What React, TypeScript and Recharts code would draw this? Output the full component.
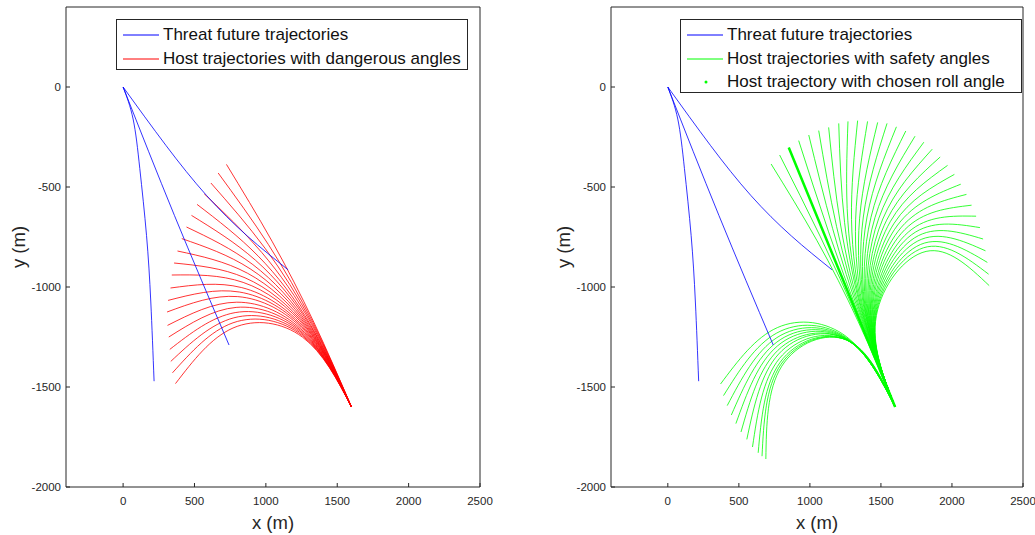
import React from 'react';
import { LineChart, Line, XAxis, YAxis, Legend, Label } from 'recharts';

type Pt = [number, number];

const xTicks = [0, 500, 1000, 1500, 2000, 2500];
const yTicks = [-2000, -1500, -1000, -500, 0];
const xRange: [number, number] = [-400, 2500];
const yRange: [number, number] = [-2000, 400];

// every host trajectory leaves from here
const hostStart: Pt = [1600, -1600];

// threat predictions, from the origin
const threatPaths: Pt[][] = [
  [[0, 0], [70, -160], [117, -408], [164, -742], [194, -1075], [217, -1471]],
  [[0, 0], [360, -643], [742, -1290]],
  [[0, 0], [300, -292], [584, -542], [870, -745], [1156, -914]],
];

// host paths: point at 1/3, point at 2/3, end point (start is hostStart)
const dangerPaths: Pt[][] = [
  [[1336, -1176], [1043, -771], [724, -387]],
  [[1330, -1178], [1017, -787], [666, -430]],
  [[1325, -1182], [994, -806], [615, -480]],
  [[1320, -1186], [972, -828], [568, -534]],
  [[1313, -1189], [947, -846], [518, -587]],
  [[1309, -1192], [927, -866], [479, -642]],
  [[1304, -1196], [909, -888], [444, -700]],
  [[1299, -1199], [890, -909], [411, -758]],
  [[1294, -1202], [871, -931], [381, -820]],
  [[1289, -1205], [854, -954], [357, -880]],
  [[1286, -1209], [841, -977], [341, -940]],
  [[1283, -1215], [831, -1003], [332, -1005]],
  [[1277, -1217], [814, -1025], [315, -1067]],
  [[1273, -1221], [803, -1048], [308, -1125]],
  [[1270, -1227], [796, -1076], [311, -1192]],
  [[1269, -1233], [792, -1102], [320, -1250]],
  [[1266, -1237], [785, -1128], [327, -1312]],
  [[1262, -1241], [776, -1154], [334, -1372]],
  [[1258, -1245], [770, -1179], [346, -1429]],
  [[1257, -1251], [770, -1205], [367, -1483]],
];

const safeLeftPaths: Pt[][] = [
  [[1259, -1249], [771, -1203], [371, -1485]],
  [[1256, -1253], [767, -1230], [392, -1543]],
  [[1255, -1256], [768, -1253], [418, -1593]],
  [[1254, -1258], [768, -1275], [447, -1640]],
  [[1254, -1260], [771, -1295], [479, -1683]],
  [[1255, -1262], [774, -1317], [515, -1725]],
  [[1257, -1261], [780, -1335], [556, -1762]],
  [[1256, -1264], [785, -1358], [596, -1800]],
  [[1257, -1265], [791, -1376], [636, -1829]],
  [[1259, -1265], [796, -1387], [663, -1846]],
  [[1260, -1265], [802, -1396], [690, -1860]],
];

const safeRightPaths: Pt[][] = [
  [[1340, -1173], [1049, -767], [727, -385]],
  [[1345, -1170], [1074, -749], [787, -340]],
  [[1357, -1165], [1130, -721], [921, -268]],
  [[1363, -1163], [1160, -708], [992, -240]],
  [[1368, -1161], [1188, -698], [1062, -218]],
  [[1373, -1160], [1216, -690], [1132, -202]],
  [[1377, -1156], [1244, -677], [1203, -182]],
  [[1380, -1154], [1267, -669], [1268, -172]],
  [[1384, -1152], [1293, -663], [1336, -168]],
  [[1388, -1152], [1322, -661], [1406, -172]],
  [[1393, -1150], [1350, -656], [1477, -177]],
  [[1396, -1147], [1376, -650], [1543, -182]],
  [[1399, -1146], [1402, -650], [1609, -199]],
  [[1403, -1145], [1430, -651], [1675, -220]],
  [[1407, -1145], [1458, -653], [1740, -246]],
  [[1411, -1144], [1485, -656], [1802, -276]],
  [[1415, -1143], [1513, -660], [1861, -311]],
  [[1419, -1143], [1540, -666], [1917, -350]],
  [[1423, -1142], [1566, -673], [1969, -392]],
  [[1427, -1142], [1593, -681], [2017, -437]],
  [[1431, -1142], [1618, -690], [2062, -486]],
  [[1435, -1142], [1644, -701], [2102, -537]],
  [[1439, -1141], [1668, -713], [2138, -591]],
  [[1444, -1142], [1692, -726], [2170, -646]],
  [[1448, -1142], [1715, -739], [2197, -703]],
  [[1452, -1142], [1737, -754], [2219, -760]],
  [[1456, -1142], [1759, -770], [2236, -819]],
  [[1460, -1143], [1780, -787], [2249, -877]],
  [[1464, -1143], [1799, -804], [2258, -936]],
  [[1468, -1143], [1818, -822], [2262, -993]],
];

const chosenPath: Pt[] = [[1350, -1167], [1100, -734], [851, -302]];

const BLUE = '#0000ff';
const RED = '#ff0000';
const GREEN = '#00ff00';
const INK = '#262626';
const FONT = '"Liberation Sans", Arial, Helvetica, sans-serif';

const rows = (pts: Pt[]) => pts.map(([x, y]) => ({ x, y }));
const hostRows = (pts: Pt[]) => rows([hostStart, ...pts]);

type Series = { key: string; data: { x: number; y: number }[]; color: string; width?: number };
type LegendItem = { label: string; color: string; kind: 'line' | 'dot' };

function LegendBox({ items, width, height }: { items: LegendItem[]; width: number; height: number }) {
  return (
    <div
      style={{
        position: 'relative',
        width,
        height,
        boxSizing: 'border-box',
        border: `1px solid ${INK}`,
        background: '#fff',
        fontFamily: FONT,
        fontSize: 17,
        color: '#111',
      }}
    >
      {items.map((it, i) => (
        <div
          key={it.label}
          style={{
            position: 'absolute',
            left: 0,
            top: 3 + i * 23.5,
            height: 24,
            display: 'flex',
            alignItems: 'center',
            whiteSpace: 'nowrap',
          }}
        >
          <svg width={46} height={24} style={{ display: 'block' }}>
            {it.kind === 'line' ? (
              <line x1={6} x2={42} y1={12} y2={12} stroke={it.color} strokeWidth={1} />
            ) : (
              <circle cx={25} cy={12} r={1.5} fill={it.color} />
            )}
          </svg>
          <span style={{ lineHeight: '24px' }}>{it.label}</span>
        </div>
      ))}
    </div>
  );
}

function Panel({
  width,
  rightMargin,
  series,
  legend,
  legendLeft,
  legendWidth,
  legendHeight,
}: {
  width: number;
  rightMargin: number;
  series: Series[];
  legend: LegendItem[];
  legendLeft: number;
  legendWidth: number;
  legendHeight: number;
}) {
  return (
    <LineChart width={width} height={535} margin={{ top: 6, right: rightMargin, bottom: 0, left: 0 }}>
      <XAxis
        xAxisId="bottom"
        type="number"
        dataKey="x"
        domain={xRange}
        allowDataOverflow
        ticks={xTicks}
        interval={0}
        tickSize={-4}
        tickMargin={14}
        height={48}
        stroke={INK}
        tick={{ fill: INK, fontSize: 11.5, fontFamily: FONT }}
      >
        <Label value="x (m)" position="insideBottom" offset={6} fill={INK} fontSize={18.5} fontFamily={FONT} />
      </XAxis>
      <XAxis
        xAxisId="top"
        orientation="top"
        type="number"
        dataKey="x"
        domain={xRange}
        allowDataOverflow
        ticks={xTicks}
        interval={0}
        tickSize={-4}
        tick={false}
        height={1}
        stroke={INK}
      />
      <YAxis
        yAxisId="left"
        type="number"
        dataKey="y"
        domain={yRange}
        allowDataOverflow
        ticks={yTicks}
        interval={0}
        tickSize={-4}
        tickMargin={9}
        width={66}
        stroke={INK}
        tick={{ fill: INK, fontSize: 11.5, fontFamily: FONT }}
      >
        <Label
          value="y (m)"
          angle={-90}
          position="insideLeft"
          offset={18}
          fill={INK}
          fontSize={18.5}
          fontFamily={FONT}
          style={{ textAnchor: 'middle' }}
        />
      </YAxis>
      <YAxis
        yAxisId="right"
        orientation="right"
        type="number"
        dataKey="y"
        domain={yRange}
        allowDataOverflow
        ticks={yTicks}
        interval={0}
        tickSize={-4}
        tick={false}
        width={1}
        stroke={INK}
      />
      {series.map((s) => (
        <Line
          key={s.key}
          xAxisId="bottom"
          yAxisId="left"
          data={s.data}
          dataKey="y"
          type="natural"
          stroke={s.color}
          strokeWidth={s.width ?? 0.8}
          dot={false}
          activeDot={false}
          legendType="none"
          isAnimationActive={false}
        />
      ))}
      <Legend
        layout="vertical"
        align="center"
        verticalAlign="middle"
        wrapperStyle={{ left: legendLeft, top: 19, width: legendWidth, height: legendHeight }}
        content={() => <LegendBox items={legend} width={legendWidth} height={legendHeight} />}
      />
    </LineChart>
  );
}

const threatSeries: Series[] = threatPaths.map((p, i) => ({ key: `threat-${i}`, data: rows(p), color: BLUE }));

const leftSeries: Series[] = [
  ...dangerPaths.map((p, i) => ({ key: `danger-${i}`, data: hostRows(p), color: RED })),
  ...threatSeries,
];

const rightSeries: Series[] = [
  ...safeRightPaths.map((p, i) => ({ key: `safe-r-${i}`, data: hostRows(p), color: GREEN })),
  ...safeLeftPaths.map((p, i) => ({ key: `safe-l-${i}`, data: hostRows(p), color: GREEN })),
  { key: 'chosen', data: hostRows(chosenPath), color: GREEN, width: 2.5 },
  ...threatSeries,
];

const leftLegend: LegendItem[] = [
  { label: 'Threat future trajectories', color: BLUE, kind: 'line' },
  { label: 'Host trajectories with dangerous angles', color: RED, kind: 'line' },
];

const rightLegend: LegendItem[] = [
  { label: 'Threat future trajectories', color: BLUE, kind: 'line' },
  { label: 'Host trajectories with safety angles', color: GREEN, kind: 'line' },
  { label: 'Host trajectory with chosen roll angle', color: GREEN, kind: 'dot' },
];

export default function App() {
  return (
    <div style={{ position: 'absolute', left: 0, top: 0, width: 1035, height: 535, background: '#fff' }}>
      <div style={{ position: 'absolute', left: 0, top: 0 }}>
        <Panel
          width={500}
          rightMargin={19}
          series={leftSeries}
          legend={leftLegend}
          legendLeft={116}
          legendWidth={352}
          legendHeight={51}
        />
      </div>
      <div style={{ position: 'absolute', left: 545, top: 0 }}>
        <Panel
          width={490}
          rightMargin={11}
          series={rightSeries}
          legend={rightLegend}
          legendLeft={135}
          legendWidth={342}
          legendHeight={74}
        />
      </div>
    </div>
  );
}
